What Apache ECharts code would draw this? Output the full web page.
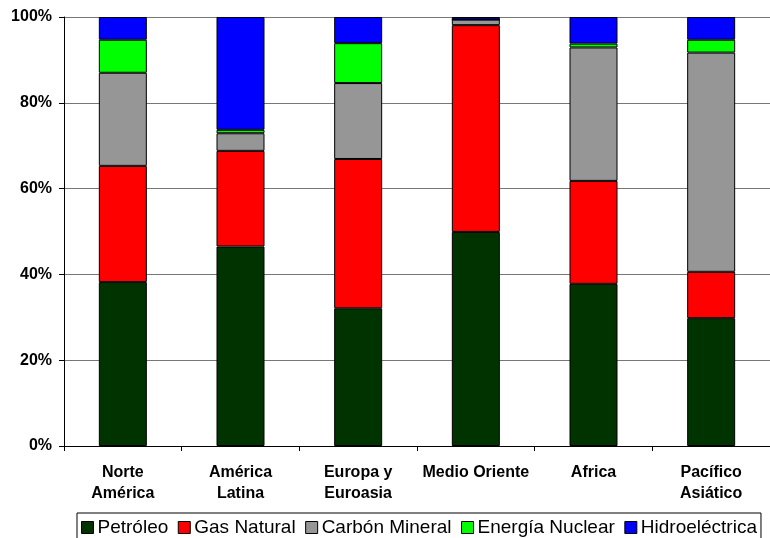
<!DOCTYPE html>
<html>
<head>
<meta charset="utf-8">
<script src="https://cdn.jsdelivr.net/npm/echarts@6/dist/echarts.min.js"></script>
<style>
  html, body { margin: 0; padding: 0; background: #fff; }
  #chart { width: 770px; height: 538px; }
</style>
</head>
<body>
<div id="chart"></div>
<script>
// Regions and share of primary energy by source (% of total)
const regions = ['Norte\nAmérica', 'América\nLatina', 'Europa y\nEuroasia', 'Medio Oriente', 'Africa', 'Pacífico\nAsiático'];
const petroleo = [38.2, 46.5, 32.1, 49.9, 37.8, 29.8];
const gasNatural = [27.1, 22.3, 34.8, 48.2, 24.0, 10.8];
const carbonMineral = [21.7, 4.1, 17.7, 1.3, 31.1, 51.1];
const energiaNuclear = [7.7, 0.8, 9.3, 0, 0.9, 3.0];
const hidroelectrica = [5.3, 26.3, 6.1, 0.6, 6.2, 5.3];
const yTicks = [0, 20, 40, 60, 80, 100];

const seriesDefs = [
  { name: 'Petróleo', data: petroleo, color: '#003300' },
  { name: 'Gas Natural', data: gasNatural, color: '#FF0000' },
  { name: 'Carbón Mineral', data: carbonMineral, color: '#969696' },
  { name: 'Energía Nuclear', data: energiaNuclear, color: '#00FF00' },
  { name: 'Hidroeléctrica', data: hidroelectrica, color: '#0000FF' }
];

const font = '"Liberation Sans", Arial, sans-serif';
const chart = echarts.init(document.getElementById('chart'), null, { renderer: 'canvas' });

chart.setOption({
  animation: false,
  backgroundColor: '#fff',
  grid: { left: 64, top: 17, width: 709, height: 429, containLabel: false },
  legend: {
    left: 77,
    top: 513,
    orient: 'horizontal',
    padding: [5, 4, 5, 4],
    itemWidth: 12,
    itemHeight: 12,
    itemGap: 9.5,
    borderColor: '#000',
    borderWidth: 1,
    icon: 'rect',
    itemStyle: { borderColor: '#000', borderWidth: 1 },
    textStyle: { fontFamily: font, fontSize: 19, color: '#000', padding: [0, 0, 0, -1] },
    data: seriesDefs.map(s => s.name)
  },
  xAxis: {
    type: 'category',
    data: regions,
    axisLine: { lineStyle: { color: '#000', width: 1 } },
    axisTick: { show: true, length: 5, lineStyle: { color: '#000' } },
    axisLabel: {
      fontFamily: font, fontSize: 16, fontWeight: 'bold', color: '#000',
      lineHeight: 21, margin: 16, interval: 0
    },
    splitLine: { show: false }
  },
  yAxis: {
    type: 'value',
    min: yTicks[0],
    max: yTicks[yTicks.length - 1],
    interval: yTicks[1] - yTicks[0],
    axisLine: { show: true, lineStyle: { color: '#000', width: 1 } },
    axisTick: { show: true, length: 5, lineStyle: { color: '#000' } },
    axisLabel: {
      formatter: '{value}%',
      fontFamily: font, fontSize: 16, fontWeight: 'bold', color: '#000', margin: 12
    },
    splitLine: { show: true, lineStyle: { color: '#777', width: 1 } }
  },
  series: seriesDefs.map(s => ({
    name: s.name,
    type: 'bar',
    stack: 'total',
    barWidth: 48,
    data: s.data,
    itemStyle: { color: s.color, borderColor: '#000', borderWidth: 1 }
  }))
});
</script>
</body>
</html>
